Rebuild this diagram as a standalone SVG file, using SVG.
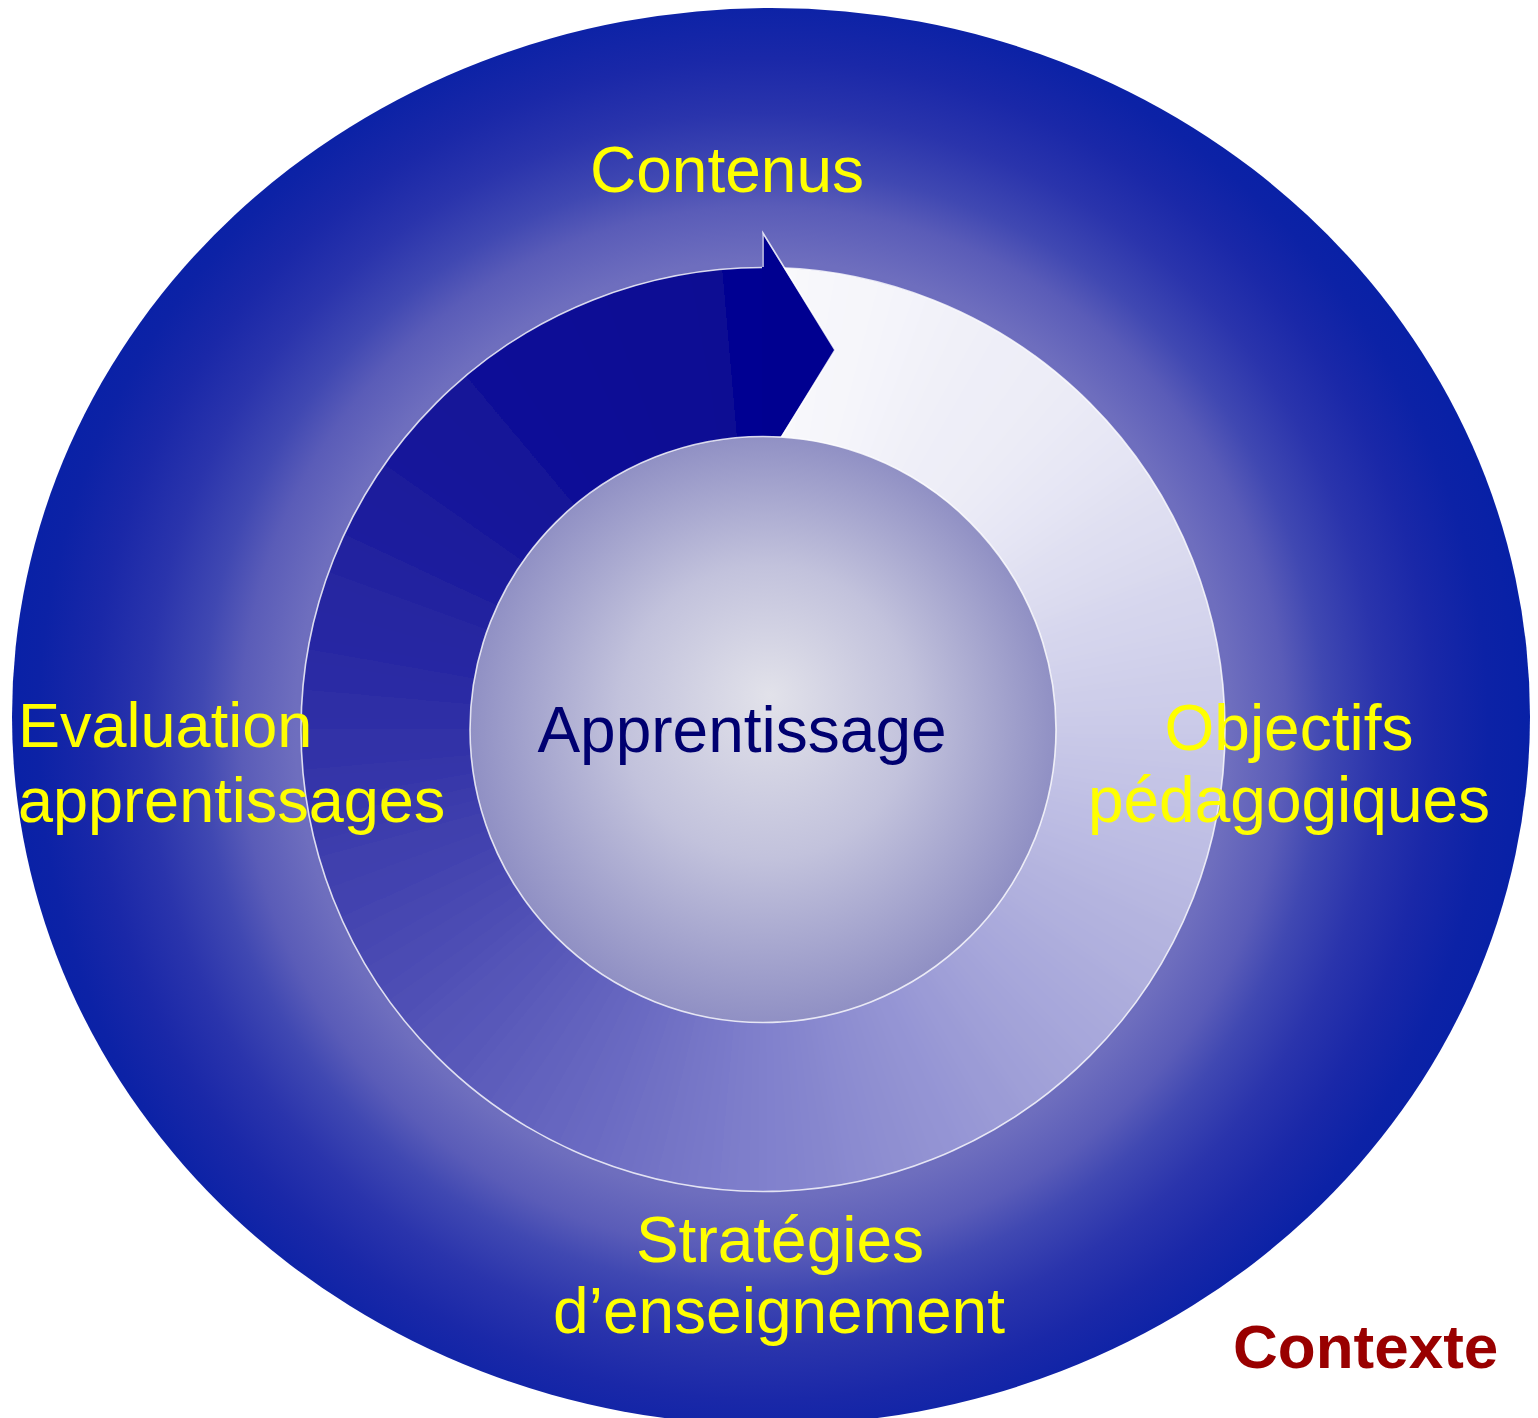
<svg xmlns="http://www.w3.org/2000/svg" xmlns:xlink="http://www.w3.org/1999/xlink" width="1538" height="1418" viewBox="0 0 1538 1418">
<style>
.lbl{font-family:"Liberation Sans",Arial,sans-serif;font-size:64px;fill:#ffff00;text-anchor:middle}
.center{font-family:"Liberation Sans",Arial,sans-serif;font-size:64px;fill:#000070;text-anchor:middle}
.ctx{font-family:"Liberation Sans",Arial,sans-serif;font-size:62px;font-weight:bold;fill:#990000}
.edge{fill:none;stroke:#ffffff;stroke-opacity:0.8;stroke-width:1.6}
</style>
<defs>
<radialGradient id="bgGrad" gradientUnits="userSpaceOnUse" cx="763" cy="729" r="780">
<stop offset="0" stop-color="#7474c2"/>
<stop offset="0.6" stop-color="#6e6ebe"/>
<stop offset="0.67" stop-color="#5a5cb8"/>
<stop offset="0.72" stop-color="#4048b2"/>
<stop offset="0.79" stop-color="#2a34ac"/>
<stop offset="0.86" stop-color="#1a28a8"/>
<stop offset="0.93" stop-color="#0c22a6"/>
<stop offset="1" stop-color="#0620a6"/>
</radialGradient>
<radialGradient id="coreGrad" gradientUnits="userSpaceOnUse" cx="763" cy="729" r="293" fx="770" fy="695">
<stop offset="0" stop-color="#e2e2ea"/>
<stop offset="0.5" stop-color="#c2c2dc"/>
<stop offset="1" stop-color="#9090c4"/>
</radialGradient>
<path id="seg" d="M763,229.5 A500,500 0 0 1 810.93,231.8 L786.96,480.65 A250,250 0 0 0 763,479.5 Z"/>
<clipPath id="ringClip"><circle cx="763" cy="729.5" r="462"/></clipPath>
<clipPath id="leftHalf"><rect x="200" y="150" width="563.5" height="1150"/></clipPath>
<clipPath id="rightHalf"><rect x="762.5" y="150" width="600" height="1150"/></clipPath>
<filter id="soft" filterUnits="userSpaceOnUse" x="150" y="120" width="1230" height="1220">
<feGaussianBlur stdDeviation="12"/>
</filter>
</defs>
<rect width="1538" height="1418" fill="#ffffff"/>
<g id="context">
<ellipse cx="771" cy="716.5" rx="759" ry="708.5" fill="url(#bgGrad)"/>
</g>
<g id="cycle-ring">
<g clip-path="url(#ringClip)">
<g clip-path="url(#rightHalf)">
<g filter="url(#soft)">
<use xlink:href="#seg" fill="rgb(250,250,252)" transform="rotate(-20 763 729.5)"/>
<use xlink:href="#seg" fill="rgb(250,250,252)" transform="rotate(-15 763 729.5)"/>
<use xlink:href="#seg" fill="rgb(250,250,252)" transform="rotate(-10 763 729.5)"/>
<use xlink:href="#seg" fill="rgb(250,250,252)" transform="rotate(-5 763 729.5)"/>
<use xlink:href="#seg" fill="rgb(249,249,252)" transform="rotate(0 763 729.5)"/>
<use xlink:href="#seg" fill="rgb(247,247,251)" transform="rotate(5 763 729.5)"/>
<use xlink:href="#seg" fill="rgb(246,246,250)" transform="rotate(10 763 729.5)"/>
<use xlink:href="#seg" fill="rgb(244,244,250)" transform="rotate(15 763 729.5)"/>
<use xlink:href="#seg" fill="rgb(242,242,249)" transform="rotate(20 763 729.5)"/>
<use xlink:href="#seg" fill="rgb(240,240,248)" transform="rotate(25 763 729.5)"/>
<use xlink:href="#seg" fill="rgb(238,238,248)" transform="rotate(30 763 729.5)"/>
<use xlink:href="#seg" fill="rgb(237,237,247)" transform="rotate(35 763 729.5)"/>
<use xlink:href="#seg" fill="rgb(235,235,246)" transform="rotate(40 763 729.5)"/>
<use xlink:href="#seg" fill="rgb(232,232,245)" transform="rotate(45 763 729.5)"/>
<use xlink:href="#seg" fill="rgb(229,229,244)" transform="rotate(50 763 729.5)"/>
<use xlink:href="#seg" fill="rgb(225,225,242)" transform="rotate(55 763 729.5)"/>
<use xlink:href="#seg" fill="rgb(222,222,241)" transform="rotate(60 763 729.5)"/>
<use xlink:href="#seg" fill="rgb(218,218,239)" transform="rotate(65 763 729.5)"/>
<use xlink:href="#seg" fill="rgb(214,214,237)" transform="rotate(70 763 729.5)"/>
<use xlink:href="#seg" fill="rgb(211,211,236)" transform="rotate(75 763 729.5)"/>
<use xlink:href="#seg" fill="rgb(207,207,234)" transform="rotate(80 763 729.5)"/>
<use xlink:href="#seg" fill="rgb(204,204,233)" transform="rotate(85 763 729.5)"/>
<use xlink:href="#seg" fill="rgb(200,200,231)" transform="rotate(90 763 729.5)"/>
<use xlink:href="#seg" fill="rgb(196,196,230)" transform="rotate(95 763 729.5)"/>
<use xlink:href="#seg" fill="rgb(192,192,228)" transform="rotate(100 763 729.5)"/>
<use xlink:href="#seg" fill="rgb(188,188,227)" transform="rotate(105 763 729.5)"/>
<use xlink:href="#seg" fill="rgb(184,184,225)" transform="rotate(110 763 729.5)"/>
<use xlink:href="#seg" fill="rgb(180,180,223)" transform="rotate(115 763 729.5)"/>
<use xlink:href="#seg" fill="rgb(176,176,222)" transform="rotate(120 763 729.5)"/>
<use xlink:href="#seg" fill="rgb(172,172,220)" transform="rotate(125 763 729.5)"/>
<use xlink:href="#seg" fill="rgb(168,168,219)" transform="rotate(130 763 729.5)"/>
<use xlink:href="#seg" fill="rgb(164,164,217)" transform="rotate(135 763 729.5)"/>
<use xlink:href="#seg" fill="rgb(160,160,216)" transform="rotate(140 763 729.5)"/>
<use xlink:href="#seg" fill="rgb(155,155,214)" transform="rotate(145 763 729.5)"/>
<use xlink:href="#seg" fill="rgb(151,151,213)" transform="rotate(150 763 729.5)"/>
<use xlink:href="#seg" fill="rgb(147,147,211)" transform="rotate(155 763 729.5)"/>
<use xlink:href="#seg" fill="rgb(143,143,209)" transform="rotate(160 763 729.5)"/>
<use xlink:href="#seg" fill="rgb(139,139,208)" transform="rotate(165 763 729.5)"/>
<use xlink:href="#seg" fill="rgb(134,134,206)" transform="rotate(170 763 729.5)"/>
<use xlink:href="#seg" fill="rgb(130,130,205)" transform="rotate(175 763 729.5)"/>
<use xlink:href="#seg" fill="rgb(126,126,203)" transform="rotate(180 763 729.5)"/>
<use xlink:href="#seg" fill="rgb(121,121,201)" transform="rotate(185 763 729.5)"/>
<use xlink:href="#seg" fill="rgb(116,116,198)" transform="rotate(190 763 729.5)"/>
<use xlink:href="#seg" fill="rgb(112,112,196)" transform="rotate(195 763 729.5)"/>
</g>
</g>
<g clip-path="url(#leftHalf)">
<g filter="url(#soft)">
<use xlink:href="#seg" fill="rgb(143,143,209)" transform="rotate(160 763 729.5)"/>
<use xlink:href="#seg" fill="rgb(139,139,208)" transform="rotate(165 763 729.5)"/>
<use xlink:href="#seg" fill="rgb(134,134,206)" transform="rotate(170 763 729.5)"/>
<use xlink:href="#seg" fill="rgb(130,130,205)" transform="rotate(175 763 729.5)"/>
<use xlink:href="#seg" fill="rgb(126,126,203)" transform="rotate(180 763 729.5)"/>
<use xlink:href="#seg" fill="rgb(121,121,201)" transform="rotate(185 763 729.5)"/>
<use xlink:href="#seg" fill="rgb(116,116,198)" transform="rotate(190 763 729.5)"/>
<use xlink:href="#seg" fill="rgb(112,112,196)" transform="rotate(195 763 729.5)"/>
<use xlink:href="#seg" fill="rgb(107,107,194)" transform="rotate(200 763 729.5)"/>
<use xlink:href="#seg" fill="rgb(102,102,192)" transform="rotate(205 763 729.5)"/>
<use xlink:href="#seg" fill="rgb(98,98,190)" transform="rotate(210 763 729.5)"/>
<use xlink:href="#seg" fill="rgb(93,93,187)" transform="rotate(215 763 729.5)"/>
<use xlink:href="#seg" fill="rgb(88,88,185)" transform="rotate(220 763 729.5)"/>
<use xlink:href="#seg" fill="rgb(84,84,183)" transform="rotate(225 763 729.5)"/>
<use xlink:href="#seg" fill="rgb(80,80,181)" transform="rotate(230 763 729.5)"/>
<use xlink:href="#seg" fill="rgb(75,75,179)" transform="rotate(235 763 729.5)"/>
<use xlink:href="#seg" fill="rgb(71,71,177)" transform="rotate(240 763 729.5)"/>
<use xlink:href="#seg" fill="rgb(67,67,175)" transform="rotate(245 763 729.5)"/>
<use xlink:href="#seg" fill="rgb(63,63,173)" transform="rotate(250 763 729.5)"/>
<use xlink:href="#seg" fill="rgb(59,59,171)" transform="rotate(255 763 729.5)"/>
<use xlink:href="#seg" fill="rgb(54,54,169)" transform="rotate(260 763 729.5)"/>
<use xlink:href="#seg" fill="rgb(50,50,167)" transform="rotate(265 763 729.5)"/>
<use xlink:href="#seg" fill="rgb(46,46,165)" transform="rotate(270 763 729.5)"/>
<use xlink:href="#seg" fill="rgb(43,43,164)" transform="rotate(275 763 729.5)"/>
<use xlink:href="#seg" fill="rgb(40,40,162)" transform="rotate(280 763 729.5)"/>
<use xlink:href="#seg" fill="rgb(37,37,161)" transform="rotate(285 763 729.5)"/>
<use xlink:href="#seg" fill="rgb(34,34,159)" transform="rotate(290 763 729.5)"/>
<use xlink:href="#seg" fill="rgb(31,31,157)" transform="rotate(295 763 729.5)"/>
<use xlink:href="#seg" fill="rgb(28,28,156)" transform="rotate(300 763 729.5)"/>
<use xlink:href="#seg" fill="rgb(25,25,154)" transform="rotate(305 763 729.5)"/>
<use xlink:href="#seg" fill="rgb(22,22,153)" transform="rotate(310 763 729.5)"/>
<use xlink:href="#seg" fill="rgb(19,19,152)" transform="rotate(315 763 729.5)"/>
<use xlink:href="#seg" fill="rgb(17,17,151)" transform="rotate(320 763 729.5)"/>
<use xlink:href="#seg" fill="rgb(16,16,150)" transform="rotate(325 763 729.5)"/>
<use xlink:href="#seg" fill="rgb(14,14,150)" transform="rotate(330 763 729.5)"/>
<use xlink:href="#seg" fill="rgb(12,12,149)" transform="rotate(335 763 729.5)"/>
<use xlink:href="#seg" fill="rgb(10,10,148)" transform="rotate(340 763 729.5)"/>
<use xlink:href="#seg" fill="rgb(8,8,148)" transform="rotate(345 763 729.5)"/>
<use xlink:href="#seg" fill="rgb(7,7,147)" transform="rotate(350 763 729.5)"/>
<use xlink:href="#seg" fill="rgb(5,5,146)" transform="rotate(355 763 729.5)"/>
<use xlink:href="#seg" fill="rgb(4,4,146)" transform="rotate(360 763 729.5)"/>
<use xlink:href="#seg" fill="rgb(4,4,146)" transform="rotate(365 763 729.5)"/>
<use xlink:href="#seg" fill="rgb(4,4,146)" transform="rotate(370 763 729.5)"/>
<use xlink:href="#seg" fill="rgb(4,4,146)" transform="rotate(375 763 729.5)"/>
</g>
</g>
</g>
<circle class="edge" cx="763" cy="729.5" r="462"/>
</g>
<g id="arrowhead">
<polygon points="762,233 835,350 762,467" fill="#000090"/>
<path class="edge" d="M763,267 L763,233 L835,350 L763,467 L763,437"/>
</g>
<g id="apprentissage">
<circle cx="763" cy="729.5" r="293" fill="url(#coreGrad)"/>
<circle class="edge" cx="763" cy="729.5" r="293"/>
<text class="center" x="742" y="752">Apprentissage</text>
</g>
<g id="labels">
<text class="lbl" x="727" y="192">Contenus</text>
<text class="lbl" x="1289" y="750">Objectifs</text>
<text class="lbl" x="1289" y="822">pédagogiques</text>
<text class="lbl" x="780" y="1262">Stratégies</text>
<text class="lbl" x="779" y="1333">d’enseignement</text>
<text class="lbl" x="18" y="747" style="text-anchor:start;font-size:63px">Evaluation</text>
<text class="lbl" x="18" y="822" style="text-anchor:start;font-size:63px">apprentissages</text>
<text class="ctx" x="1233" y="1368">Contexte</text>
</g>
</svg>
